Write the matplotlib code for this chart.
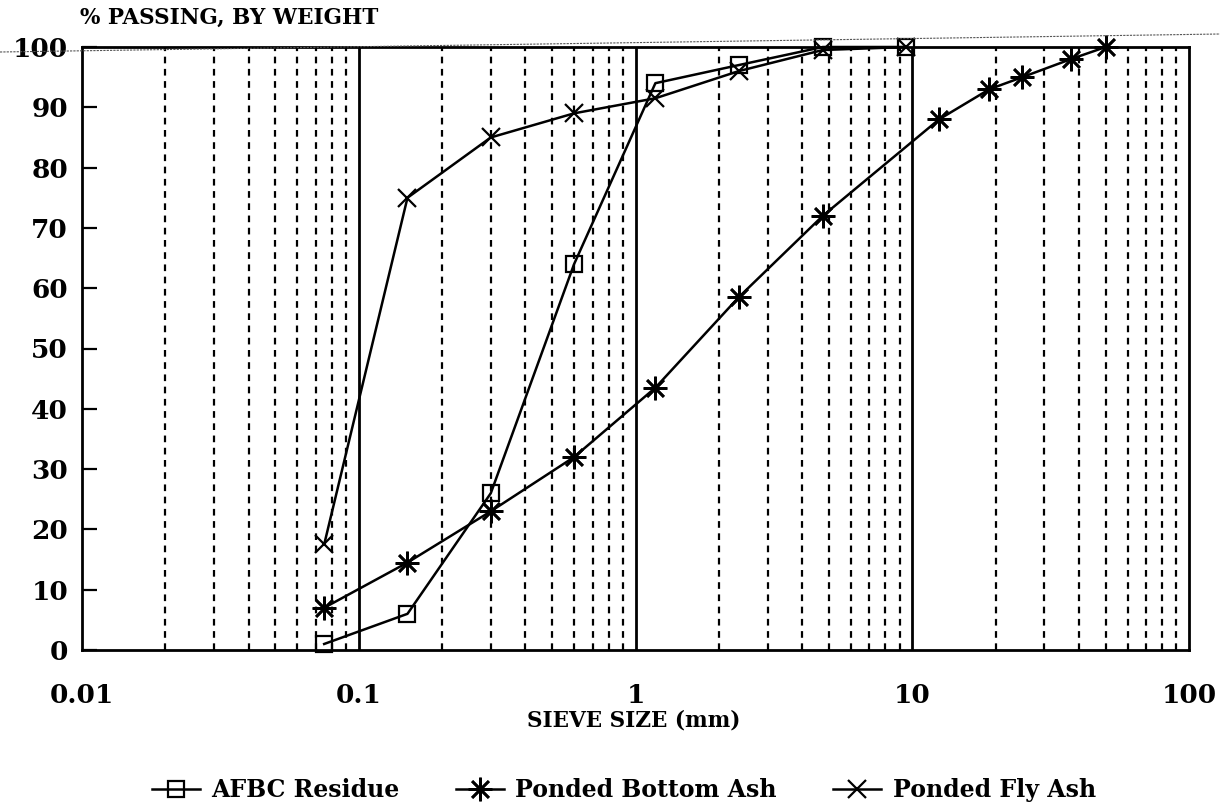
import matplotlib
matplotlib.use("Agg")
import matplotlib.pyplot as plt
from matplotlib.lines import Line2D
from matplotlib.ticker import FixedLocator, NullLocator

# ---- data ----
afbc_size = [0.075, 0.15, 0.3, 0.6, 1.18, 2.36, 4.75, 9.5]
afbc_pass = [1, 6, 26, 64, 94, 97, 100, 100]

bottom_size = [0.075, 0.15, 0.3, 0.6, 1.18, 2.36, 4.75, 12.5, 19, 25, 37.5, 50]
bottom_pass = [7, 14.5, 23, 32, 43.5, 58.5, 72, 88, 93, 95, 98, 100]

fly_size = [0.075, 0.15, 0.3, 0.6, 1.18, 2.36, 4.75, 9.5]
fly_pass = [17.5, 75, 85, 89, 91.5, 96, 99.5, 100]

series_names = ["AFBC Residue", "Ponded Bottom Ash", "Ponded Fly Ash"]
x_ticks = [0.01, 0.1, 1, 10, 100]
x_tick_labels = ["0.01", "0.1", "1", "10", "100"]
y_ticks = [0, 10, 20, 30, 40, 50, 60, 70, 80, 90, 100]

FONT = "DejaVu Serif"

fig = plt.figure(figsize=(12.2, 8.06), dpi=100)
W, H = 1220, 806
ax = fig.add_axes([82 / W, 1 - 650 / H, (1189 - 82) / W, (650 - 47) / H])

ax.set_xscale("log")
ax.set_xlim(0.01, 100)
ax.set_ylim(0, 100)

# vertical grid: dashed minor, solid decades
minor = [m * 10.0 ** e for e in range(-2, 2) for m in range(2, 10)]
for xv in minor:
    ax.axvline(xv, color="black", lw=1.6, ls=(0, (3, 2.5)), zorder=1)
for xv in [0.1, 1, 10]:
    ax.axvline(xv, color="black", lw=2.0, zorder=1)

lw = 1.8
ax.plot(afbc_size, afbc_pass, color="black", lw=lw, marker="s", ms=12,
        mfc="none", mec="black", mew=1.6, clip_on=False, zorder=3,
        label=series_names[0])
ax.plot(bottom_size, bottom_pass, color="black", lw=lw, marker=(8, 2, 0), ms=17,
        mec="black", mew=1.9, clip_on=False, zorder=3, label=series_names[1])
ax.plot(fly_size, fly_pass, color="black", lw=lw, marker="x", ms=13,
        mec="black", mew=1.6, clip_on=False, zorder=3, label=series_names[2])

for s in ax.spines.values():
    s.set_linewidth(2.0)

ax.xaxis.set_major_locator(FixedLocator(x_ticks))
ax.xaxis.set_minor_locator(NullLocator())
ax.set_xticks(x_ticks)
ax.set_xticklabels(x_tick_labels)
ax.tick_params(axis="x", which="both", length=0, pad=24)
ax.set_yticks(y_ticks)
ax.set_yticklabels([str(v) for v in y_ticks])
ax.tick_params(axis="y", direction="in", length=11, width=1.6, pad=10)
for lab in ax.get_xticklabels() + ax.get_yticklabels():
    lab.set_fontfamily(FONT)
    lab.set_fontweight("bold")
    lab.set_fontsize(19)

fig.text(634 / W, 1 - 720 / H, "SIEVE SIZE (mm)", ha="center", va="center",
         fontfamily=FONT, fontweight="bold", fontsize=15.5)
fig.text(80 / W, 1 - 18 / H, "% PASSING, BY WEIGHT", ha="left", va="center",
         fontfamily=FONT, fontweight="bold", fontsize=15.5)

# faint scan line across top
fig.add_artist(Line2D([0, 1], [1 - 52 / H, 1 - 34 / H], transform=fig.transFigure,
                      color="#555555", lw=0.8, ls=(0, (2, 1))))

leg = fig.legend(loc="center", bbox_to_anchor=(624 / W, 1 - 790 / H), ncol=3,
                 frameon=False, handlelength=2.0, handletextpad=0.5,
                 columnspacing=2.4, prop={"family": FONT, "weight": "bold", "size": 17})

fig.savefig("out.png", dpi=100)
